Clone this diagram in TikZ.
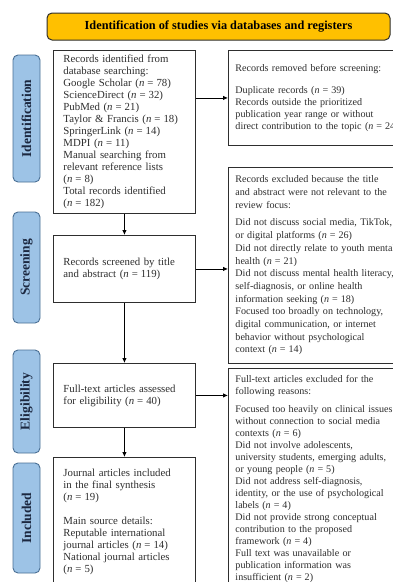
\documentclass[tikz,border=0pt]{standalone}
\usepackage{fontspec}
\setmainfont{Liberation Serif}
\usetikzlibrary{arrows.meta,positioning,calc}
\definecolor{Gold}{HTML}{FFC000}
\definecolor{Stage}{HTML}{9DC3E6}
\definecolor{StageLine}{HTML}{4A6F94}
\definecolor{Ink}{HTML}{2E2E2E}
\definecolor{Navy}{HTML}{1C2840}
\newcommand{\nrec}[1]{(\textit{n}\hspace{3pt}=\hspace{3pt}#1)}

\begin{document}
\begin{tikzpicture}[x=1pt,y=-1pt,
  box/.style={draw=Ink,line width=.9pt,fill=white,anchor=north west,align=left,
    text=Ink,font=\fontsize{10.8}{12}\selectfont,inner ysep=4pt},
  leftbox/.style={box,text width=122pt,inner xsep=10pt},
  rightbox/.style={box,text width=200pt,inner xsep=7pt,font=\fontsize{10.1}{12}\selectfont},
  stage/.style={draw=StageLine,line width=.9pt,fill=Stage,rounded corners=5pt,
    rotate=90,minimum height=27pt,text=Navy,font=\fontsize{13.5}{15}\selectfont\bfseries},
  arr/.style={-{Latex[length=5pt,width=4.5pt]},line width=.8pt,draw=black}]
\useasboundingbox (0,0) rectangle (393,582);
\fill[white] (0,0) rectangle (393,582);
\clip (0,0) rectangle (393,582);

% heading
\node[draw=Ink,line width=1pt,fill=Gold,rounded corners=5pt,minimum width=343pt,
  minimum height=27pt,font=\fontsize{12.3}{14}\selectfont\bfseries] (head) at (218.5,26.5)
  {Identification of studies via databases and registers};

% stage labels
\node[stage,minimum width=127pt] (idlab) at (26.5,118.5) {Identification};
\node[stage,minimum width=111pt] (scrlab) at (26.5,267.5) {Screening};
\node[stage,minimum width=103pt] (eliglab) at (26.5,401.5) {Eligibility};
\node[stage,minimum width=110pt] (inclab) at (26.5,518) {Included};

% main column
\node[leftbox,minimum height=163pt] (ident) at (53,50)
  {Records identified from\\ database searching:\\ Google Scholar \nrec{78}\\
   ScienceDirect \nrec{32}\\ PubMed \nrec{21}\\ Taylor \& Francis \nrec{18}\\
   SpringerLink \nrec{14}\\ MDPI \nrec{11}\\ Manual searching from\\
   relevant reference lists\\ \nrec{8}\\ Total records identified\\ \nrec{182}};
\node[leftbox,minimum height=67pt] (screen) at (53,235)
  {Records screened by title\\ and abstract \nrec{119}};
\node[leftbox,minimum height=64pt] (elig) at (53,363)
  {Full-text articles assessed\\ for eligibility \nrec{40}};
\node[leftbox,minimum height=129pt] (incl) at (53,457)
  {Journal articles included\\ in the final synthesis\\ \nrec{19}\\[12pt]
   Main source details:\\ Reputable international\\ journal articles \nrec{14}\\
   National journal articles\\ \nrec{5}};

% side column
\node[rightbox,minimum height=95pt] (removed) at (228,50)
  {Records removed before screening:\\[10pt] Duplicate records \nrec{39}\\
   Records outside the prioritized\\ publication year range or without\\
   direct contribution to the topic \nrec{24}};
\node[rightbox,minimum height=196pt,font=\fontsize{10.1}{12.7}\selectfont] (excl) at (228,167)
  {Records excluded because the title\\ and abstract were not relevant to the\\
   review focus:\\[5pt] Did not discuss social media, TikTok,\\
   or digital platforms \nrec{26}\\ Did not directly relate to youth mental\\
   health \nrec{21}\\ Did not discuss mental health literacy,\\
   self-diagnosis, or online health\\ information seeking \nrec{18}\\
   Focused too broadly on technology,\\ digital communication, or internet\\
   behavior without psychological\\ context \nrec{14}};
\node[rightbox,minimum height=221pt] (fulltext) at (228,368)
  {Full-text articles excluded for the\\ following reasons:\\[6pt]
   Focused too heavily on clinical issues\\ without connection to social media\\
   contexts \nrec{6}\\ Did not involve adolescents,\\
   university students, emerging adults,\\ or young people \nrec{5}\\
   Did not address self-diagnosis,\\ identity, or the use of psychological\\
   labels \nrec{4}\\ Did not provide strong conceptual\\ contribution to the proposed\\
   framework \nrec{4}\\ Full text was unavailable or\\ publication information was\\
   insufficient \nrec{2}};

% arrows
\draw[arr] (ident) -- (screen);
\draw[arr] (screen) -- (elig);
\draw[arr] (elig) -- (incl);
\draw[arr] (removed.west -| ident.east) -- (removed.west);
\draw[arr] (screen.east) -- (screen.east -| excl.west);
\draw[arr] (elig.east) -- (elig.east -| fulltext.west);
\end{tikzpicture}
\end{document}
